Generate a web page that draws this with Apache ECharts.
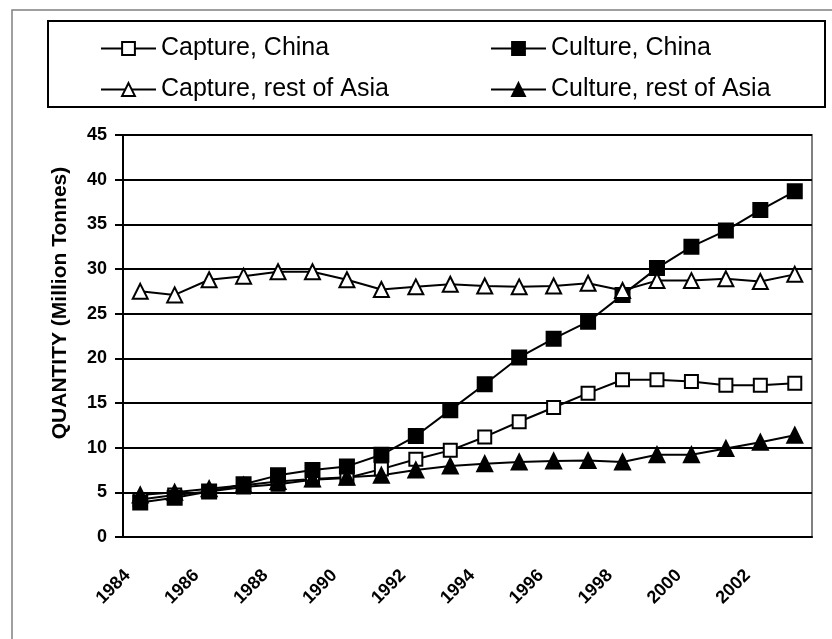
<!DOCTYPE html>
<html>
<head>
<meta charset="utf-8">
<script src="https://cdn.jsdelivr.net/npm/echarts@6/dist/echarts.min.js"></script>
<style>
  html, body { margin: 0; padding: 0; background: #fff; }
  #chart { width: 832px; height: 639px; }
</style>
</head>
<body>
<div id="chart"></div>
<script>
// years on the category axis
const years = ['1984', '1985', '1986', '1987', '1988', '1989', '1990', '1991', '1992', '1993',
  '1994', '1995', '1996', '1997', '1998', '1999', '2000', '2001', '2002', '2003']

// million tonnes
const captureChina = [4.2, 4.7, 5.1, 5.6, 5.9, 6.4, 6.6, 7.6, 8.7, 9.7,
  11.2, 12.9, 14.5, 16.1, 17.6, 17.6, 17.4, 17.0, 17.0, 17.2]
const cultureChina = [3.85, 4.4, 5.1, 5.9, 6.9, 7.5, 7.9, 9.2, 11.3, 14.2,
  17.1, 20.1, 22.2, 24.1, 27.1, 30.1, 32.5, 34.3, 36.6, 38.7]
const captureAsia = [27.5, 27.1, 28.8, 29.2, 29.7, 29.7, 28.8, 27.7, 28.0, 28.3,
  28.1, 28.0, 28.1, 28.4, 27.6, 28.7, 28.7, 28.9, 28.6, 29.4]
const cultureAsia = [4.7, 5.0, 5.4, 5.8, 6.2, 6.5, 6.7, 6.9, 7.5, 7.95,
  8.2, 8.4, 8.5, 8.55, 8.4, 9.2, 9.2, 9.9, 10.6, 11.4]

const yTicks = { min: 0, max: 45, step: 5 }

const font = 'Liberation Sans, Arial, sans-serif'

function lineSeries(name, data, symbol, filled) {
  return {
    name: name,
    type: 'line',
    data: data,
    symbol: symbol,
    symbolSize: symbol === 'triangle' ? 15 : (filled ? 14 : 13),
    lineStyle: { color: '#000', width: 2 },
    itemStyle: {
      color: filled ? '#000' : '#fff',
      borderColor: '#000',
      borderWidth: 2
    },
    animation: false
  }
}

const chart = echarts.init(document.getElementById('chart'))

const legendCommon = {
  orient: 'vertical',
  top: 31,
  itemWidth: 55,
  itemHeight: 16,
  itemGap: 16,
  textStyle: { fontFamily: font, fontSize: 25, color: '#000' }
}

chart.setOption({
  backgroundColor: '#fff',
  // 外框和图例框
  graphic: [
    {
      type: 'rect',
      shape: { x: 12, y: 10, width: 900, height: 700 },
      style: { fill: 'none', stroke: '#808080', lineWidth: 1.5 },
      silent: true
    },
    {
      type: 'rect',
      shape: { x: 48, y: 21, width: 777, height: 86 },
      style: { fill: '#fff', stroke: '#000', lineWidth: 2 },
      silent: true
    },
    {
      type: 'text',
      x: 60,
      y: 303,
      rotation: Math.PI / 2,
      style: {
        text: 'QUANTITY (Million Tonnes)',
        font: 'bold 21px ' + font,
        fill: '#000',
        textAlign: 'center',
        textVerticalAlign: 'middle'
      },
      silent: true
    }
  ],
  legend: [
    Object.assign({ left: 95, data: ['Capture, China', 'Capture, rest of Asia'] }, legendCommon),
    Object.assign({ left: 485, data: ['Culture, China', 'Culture, rest of Asia'] }, legendCommon)
  ],
  grid: {
    left: 123,
    right: 20,
    top: 135,
    bottom: 102,
    show: true,
    borderColor: '#808080',
    borderWidth: 2
  },
  xAxis: {
    type: 'category',
    data: years,
    boundaryGap: true,
    axisLine: { lineStyle: { color: '#000', width: 2 } },
    axisTick: { interval: 0, length: 8, lineStyle: { color: '#000', width: 2 } },
    axisLabel: {
      interval: 1,
      rotate: 45,
      margin: 23,
      padding: [0, 18, 0, 0],
      color: '#000',
      fontFamily: font,
      fontWeight: 'bold',
      fontSize: 18
    },
    splitLine: { show: false }
  },
  yAxis: {
    type: 'value',
    min: yTicks.min,
    max: yTicks.max,
    interval: yTicks.step,
    axisLine: { show: true, lineStyle: { color: '#000', width: 2 } },
    axisTick: { show: true, length: 8, lineStyle: { color: '#000', width: 2 } },
    axisLabel: {
      margin: 16,
      color: '#000',
      fontFamily: font,
      fontWeight: 'bold',
      fontSize: 18
    },
    splitLine: { lineStyle: { color: '#000', width: 2 } }
  },
  series: [
    lineSeries('Capture, China', captureChina, 'rect', false),
    lineSeries('Culture, China', cultureChina, 'rect', true),
    lineSeries('Capture, rest of Asia', captureAsia, 'triangle', false),
    lineSeries('Culture, rest of Asia', cultureAsia, 'triangle', true)
  ]
})
</script>
</body>
</html>
